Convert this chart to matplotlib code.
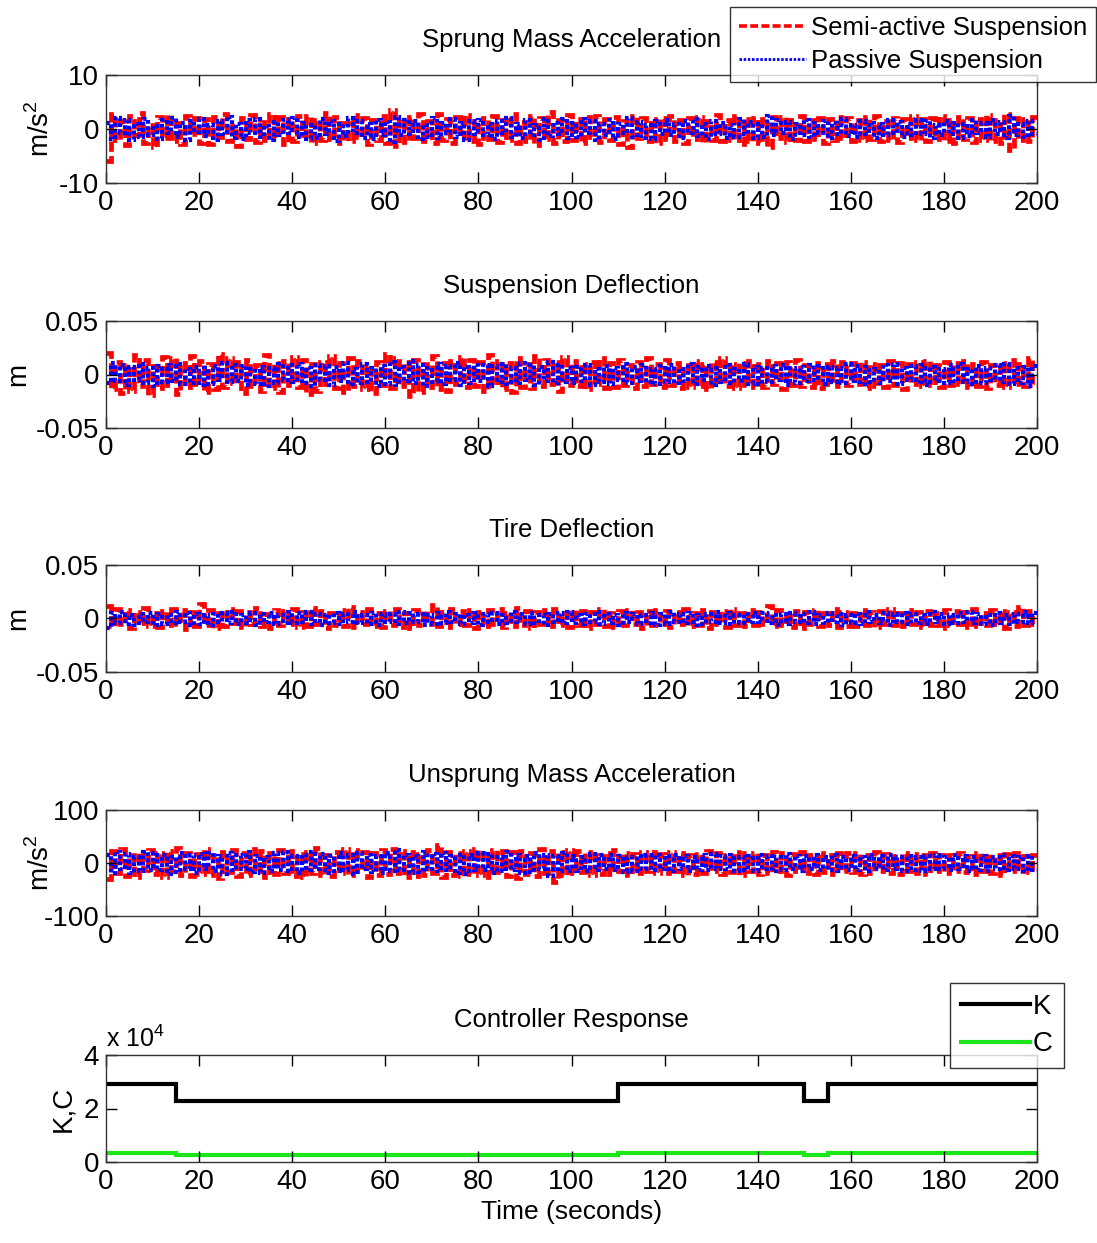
import numpy as np
import matplotlib
matplotlib.use("Agg")
import matplotlib.pyplot as plt
from matplotlib.ticker import FuncFormatter
from matplotlib.lines import Line2D

plt.rcParams['font.family'] = ['Liberation Sans', 'DejaVu Sans']
plt.rcParams['axes.unicode_minus'] = False
plt.rcParams['mathtext.fontset'] = 'custom'
plt.rcParams['mathtext.rm'] = 'Liberation Sans'

# ---------------- data (one value per second, 0..200 s) ----------------
sprung_semi = [
    -6.0, 2.8, -2.1, 1.5, -2.9, 2.4, -1.2, 2.9, -2.6, 0.8, -3.4, 2.2, -1.7, 2.6, -2.3, 1.1, -2.8, 2.5, -0.9, 2.0,
    -2.5, 1.8, -2.7, 2.3, -1.4, 2.7, -2.2, 0.6, -3.1, 2.1, -1.9, 2.6, -2.4, 1.3, -2.0, 2.8, -1.6, 2.2, -2.7, 1.9,
    -2.3, 2.5, -1.1, 2.4, -2.6, 1.7, -2.1, 2.9, -1.8, 2.3, -2.5, 1.2, -2.2, 2.6, -1.5, 2.1, -2.8, 1.6, -2.0, 2.4,
    -2.6, 3.6, -3.2, 1.9, -2.4, 2.2, -1.7, 2.7, -2.3, 1.4, -2.6, 2.8, -2.0, 1.8, -2.5, 2.3, -1.6, 2.6, -2.2, 1.5,
    -2.7, 2.1, -1.9, 2.5, -2.4, 1.6, -2.1, 2.8, -2.6, 1.3, -2.3, 2.4, -3.0, 2.0, -1.8, 3.1, -2.5, 1.7, -2.2, 2.6,
    -2.0, 1.9, -2.6, 2.3, -1.5, 2.5, -2.4, 1.8, -2.1, 2.2, -2.8, 1.4, -3.3, 2.4, -1.7, 2.1, -2.3, 1.9, -2.5, 2.0,
    -1.9, 2.4, -2.2, 1.6, -2.6, 2.1, -1.8, 2.3, -2.4, 1.5, -2.0, 2.6, -2.3, 1.7, -2.1, 2.4, -2.7, 1.8, -2.2, 2.0,
    -2.5, 1.9, -3.4, 2.3, -1.6, 2.2, -2.4, 1.7, -2.0, 2.5, -2.2, 1.6, -1.9, 2.1, -2.5, 1.8, -2.1, 2.3, -1.7, 2.0,
    -2.3, 1.7, -2.0, 2.2, -1.8, 2.4, -2.2, 1.5, -2.0, 2.1, -2.4, 1.9, -1.7, 2.5, -2.1, 1.8, -2.3, 2.0, -1.9, 2.4,
    -2.2, 1.6, -2.5, 2.3, -1.8, 2.1, -2.4, 1.9, -2.0, 2.6, -2.2, 1.7, -2.5, 2.8, -3.8, 2.0, -2.1, 1.8, -2.3, 2.2,
]
sprung_passive = [
    1.2, -1.8, 2.0, -0.7, 1.6, -2.1, 0.9, -1.5, 1.9, -1.2, 0.5, -1.9, 1.7, -0.8, 2.1, -1.4, 1.1, -2.0, 1.5, -0.6,
    1.8, -1.3, 0.8, -2.0, 1.4, -0.9, 2.2, -1.6, 1.0, -1.8, 1.6, -0.7, 1.9, -1.5, 0.6, -2.1, 1.3, -1.1, 1.7, -0.8,
    2.0, -1.4, 1.1, -1.9, 0.7, -1.6, 1.8, -1.0, 1.5, -2.2, 0.9, -1.3, 2.1, -0.8, 1.4, -1.7, 1.0, -1.9, 1.6, -1.2,
    1.3, -2.4, 2.3, -1.1, 1.7, -0.9, 1.5, -1.8, 0.8, -1.4, 2.0, -1.6, 1.2, -0.7, 1.9, -1.5, 1.1, -2.0, 1.4, -1.0,
    1.7, -1.2, 0.9, -1.9, 1.5, -0.8, 2.1, -1.4, 1.0, -1.7, 1.6, -1.1, 0.7, -2.0, 1.8, -1.3, 1.2, -0.9, 1.9, -1.6,
    1.1, -1.5, 1.8, -0.7, 1.4, -2.1, 0.9, -1.2, 1.6, -1.8, 1.0, -0.8, 2.0, -1.4, 1.3, -1.6, 0.8, -1.9, 1.5, -1.0,
    1.6, -1.1, 0.9, -1.7, 1.4, -0.8, 1.8, -1.3, 1.0, -1.9, 1.5, -0.9, 1.2, -1.6, 0.7, -1.4, 1.9, -1.0, 1.3, -1.7,
    1.0, -1.5, 2.4, -1.2, 1.6, -0.8, 1.3, -1.8, 0.9, -1.1, 1.7, -1.4, 1.1, -0.7, 1.5, -1.6, 1.2, -0.9, 1.8, -1.3,
    0.8, -1.4, 1.5, -1.0, 1.2, -1.7, 0.9, -1.2, 1.6, -0.8, 1.3, -1.5, 1.0, -1.1, 1.7, -0.9, 1.4, -1.6, 0.8, -1.2,
    1.5, -1.0, 1.2, -1.6, 0.9, -1.3, 1.7, -0.8, 1.1, -1.4, 1.6, -1.0, 1.3, -1.7, 2.4, -1.1, 1.0, -1.5, 1.4, -0.9,
]
susp_semi_mm = [
    20, -14, 12, -17, 9, -15, 18, -11, 14, -19, 8, -13, 16, -10, 15, -18, 11, -12, 17, -9,
    13, -16, 10, -14, 19, -12, 15, -8, 12, -17, 14, -11, 9, -15, 18, -13, 11, -16, 13, -10,
    16, -12, 14, -18, 10, -15, 12, -9, 17, -13, 11, -16, 15, -11, 13, -14, 9, -17, 12, -10,
    19, -13, 15, -11, 12, -20, 14, -16, 10, -12, 17, -14, 11, -15, 13, -9, 16, -12, 14, -11,
    12, -15, 18, -10, 13, -14, 11, -16, 15, -12, 10, -13, 17, -11, 14, -9, 12, -15, 16, -10,
    13, -11, 10, -14, 12, -9, 15, -13, 11, -12, 14, -10, 9, -13, 12, -11, 15, -9, 10, -12,
    14, -10, 11, -13, 9, -12, 13, -11, 10, -14, 12, -9, 15, -11, 10, -13, 11, -10, 13, -12,
    10, -12, 13, -9, 11, -14, 12, -10, 14, -11, 9, -12, 11, -13, 10, -9, 13, -11, 12, -10,
    11, -9, 12, -13, 10, -11, 9, -12, 13, -10, 11, -14, 10, -9, 12, -11, 13, -10, 9, -12,
    12, -10, 11, -9, 13, -12, 10, -11, 12, -13, 9, -10, 11, -12, 14, -9, 10, -11, 15, -10,
]
susp_passive_mm = [
    -8, 11, -6, 9, -10, 7, -5, 10, -8, 6, -11, 8, -7, 9, -6, 10, -9, 5, -8, 7,
    -10, 6, -9, 8, -5, 11, -7, 9, -6, 8, -10, 5, -9, 7, -11, 6, -8, 10, -5, 9,
    -7, 10, -8, 6, -11, 9, -5, 8, -10, 7, -6, 11, -9, 5, -8, 10, -7, 6, -11, 8,
    -9, 12, -10, 7, -6, 13, -8, 9, -11, 6, -7, 10, -9, 8, -5, 11, -10, 7, -8, 9,
    -6, 9, -11, 8, -7, 10, -9, 6, -8, 11, -5, 9, -10, 7, -6, 12, -8, 9, -7, 6,
    -8, 7, -6, 9, -10, 5, -7, 8, -9, 6, -5, 10, -8, 7, -6, 9, -7, 5, -9, 8,
    -7, 9, -8, 5, -6, 10, -9, 7, -5, 8, -10, 6, -7, 9, -8, 5, -6, 10, -9, 7,
    -9, 6, -7, 8, -5, 9, -10, 6, -8, 7, -6, 9, -5, 8, -9, 7, -7, 6, -8, 10,
    -6, 8, -9, 7, -7, 5, -8, 9, -6, 10, -9, 6, -5, 8, -7, 9, -10, 7, -6, 5,
    -8, 9, -6, 10, -7, 5, -9, 8, -8, 6, -5, 9, -7, 10, -9, 6, -8, 7, -11, 8,
]
tire_semi_mm = [
    12, -7, 9, -5, 8, -9, 6, -4, 10, -7, 5, -8, 7, -6, 9, -5, 8, -10, 6, -7,
    14, -6, 8, -9, 5, -7, 9, -4, 7, -8, 6, -5, 10, -7, 4, -9, 8, -6, 7, -5,
    9, -8, 6, -7, 10, -5, 7, -9, 5, -6, 8, -7, 11, -8, 6, -5, 9, -7, 5, -8,
    7, -6, 9, -8, 5, -9, 8, -6, 7, -5, 13, -7, 6, -8, 9, -5, 7, -6, 8, -9,
    6, -7, 8, -5, 9, -8, 5, -7, 10, -6, 7, -9, 6, -5, 8, -7, 9, -6, 5, -8,
    8, -6, 7, -9, 6, -5, 9, -7, 5, -8, 7, -6, 8, -5, 6, -9, 7, -6, 8, -5,
    7, -8, 6, -5, 9, -7, 5, -6, 8, -9, 6, -5, 7, -8, 9, -6, 5, -7, 8, -6,
    6, -5, 12, -7, 8, -6, 5, -8, 7, -9, 6, -5, 8, -7, 5, -6, 9, -8, 6, -7,
    5, -7, 8, -6, 6, -8, 7, -5, 9, -6, 5, -7, 8, -5, 6, -8, 7, -6, 5, -9,
    8, -6, 7, -5, 6, -8, 9, -7, 5, -6, 8, -5, 7, -9, 6, -7, 11, -6, 7, -5,
]
tire_passive_mm = [
    -9, 5, -4, 6, -5, 3, -6, 4, -3, 5, -6, 4, -5, 3, -4, 6, -3, 5, -6, 4,
    -5, 3, -6, 4, -3, 5, -4, 6, -5, 3, -4, 5, -6, 4, -3, 5, -5, 3, -4, 6,
    -4, 5, -3, 6, -5, 4, -6, 3, -4, 5, -5, 4, -3, 6, -4, 3, -5, 5, -6, 4,
    -3, 4, -5, 6, -4, 5, -3, 4, -6, 3, -5, 5, -4, 6, -3, 4, -5, 3, -4, 5,
    -6, 4, -3, 5, -5, 3, -4, 6, -3, 4, -5, 5, -4, 3, -6, 4, -3, 5, -4, 6,
    -4, 3, -5, 4, -3, 6, -5, 4, -4, 3, -6, 5, -3, 4, -5, 3, -4, 5, -6, 4,
    -5, 6, -3, 4, -4, 5, -6, 3, -5, 4, -3, 6, -4, 5, -5, 3, -4, 4, -3, 5,
    -3, 5, -4, 3, -6, 4, -5, 5, -3, 4, -4, 6, -5, 3, -4, 5, -3, 4, -6, 3,
    -4, 4, -5, 6, -3, 3, -4, 5, -6, 4, -3, 5, -5, 4, -4, 3, -5, 6, -3, 4,
    -5, 3, -4, 5, -3, 6, -4, 4, -5, 3, -6, 5, -4, 3, -5, 4, -3, 6, -4, 5,
]
unsprung_semi = [
    -30, 22, -18, 26, -24, 15, -27, 20, -14, 25, -21, 18, -26, 23, -16, 28, -22, 19, -25, 17,
    -20, 27, -23, 16, -28, 21, -17, 24, -25, 19, -22, 26, -15, 23, -27, 18, -21, 25, -19, 22,
    -24, 17, -26, 21, -19, 28, -23, 16, -25, 20, -18, 27, -22, 24, -16, 21, -26, 19, -23, 25,
    -21, 26, -18, 23, -27, 20, -24, 17, -22, 25, -19, 34, -26, 21, -23, 18, -25, 22, -20, 27,
    -23, 19, -26, 24, -17, 22, -25, 20, -28, 23, -21, 18, -24, 26, -19, 22, -36, 20, -23, 25,
    -19, 22, -17, 20, -23, 16, -21, 18, -20, 24, -16, 19, -22, 17, -18, 21, -15, 20, -19, 17,
    -18, 21, -16, 19, -22, 15, -20, 17, -19, 22, -15, 18, -21, 16, -17, 20, -23, 18, -16, 19,
    -20, 16, -18, 21, -15, 19, -22, 17, -16, 20, -19, 15, -21, 18, -17, 16, -20, 19, -15, 18,
    -17, 19, -21, 15, -18, 20, -16, 17, -19, 14, -20, 18, -15, 17, -18, 16, -21, 19, -16, 15,
    -18, 16, -15, 19, -17, 14, -20, 18, -16, 17, -19, 15, -22, 17, -16, 18, -15, 14, -17, 16,
]
unsprung_passive = [
    15, -18, 20, -12, 17, -19, 11, -16, 21, -14, 18, -13, 16, -20, 12, -17, 19, -11, 15, -18,
    17, -12, 19, -16, 13, -20, 18, -14, 16, -11, 20, -17, 14, -19, 12, -15, 18, -13, 21, -16,
    13, -19, 16, -14, 20, -12, 17, -18, 14, -16, 19, -13, 15, -20, 18, -11, 16, -17, 13, -19,
    18, -15, 24, -13, 16, -19, 14, -17, 20, -12, 17, -15, 19, -14, 13, -18, 16, -20, 15, -13,
    19, -14, 17, -18, 12, -16, 20, -13, 15, -19, 14, -17, 18, -12, 16, -24, 13, -15, 19, -16,
    14, -16, 12, -15, 17, -13, 15, -11, 16, -14, 13, -17, 12, -15, 14, -12, 16, -13, 15, -11,
    13, -15, 16, -12, 14, -16, 11, -14, 15, -13, 17, -12, 14, -11, 16, -15, 12, -14, 13, -16,
    15, -12, 14, -16, 12, -13, 17, -11, 13, -15, 14, -12, 16, -14, 11, -13, 15, -16, 12, -14,
    14, -13, 12, -15, 16, -11, 13, -14, 15, -12, 11, -16, 14, -13, 12, -15, 13, -11, 16, -12,
    12, -14, 15, -11, 13, -16, 12, -13, 14, -15, 11, -12, 16, -13, 14, -11, 12, -15, 13, -14,
]

# controller response: piecewise-constant segments
ctrl_edges = [0, 15, 110, 150, 155, 200]
K_values = [2.92e4, 2.28e4, 2.92e4, 2.28e4, 2.92e4]
C_values = [3200, 2700, 3200, 2700, 3200]

x_ticks = [0, 20, 40, 60, 80, 100, 120, 140, 160, 180, 200]
titles = ["Sprung Mass Acceleration", "Suspension Deflection", "Tire Deflection",
          "Unsprung Mass Acceleration", "Controller Response"]
ylabels = ["m/s$^2$", "m", "m", "m/s$^2$", "K,C"]
ylims = [(-10, 10), (-0.05, 0.05), (-0.05, 0.05), (-100, 100), (0, 40000)]
yticks = [[-10, 0, 10], [-0.05, 0, 0.05], [-0.05, 0, 0.05], [-100, 0, 100], [0, 20000, 40000]]

# ---------------- figure ----------------
W, H = 1097, 1243
fig = plt.figure(figsize=(W / 100, H / 100), dpi=100)

left_px, right_px = 106, 1037
panel_px = [(75, 183), (321, 428), (565, 672), (810, 916), (1055, 1162)]
ylabel_right_px = [55, 31, 31, 55, 76]
axes = []
for top, bot in panel_px:
    ax = fig.add_axes([left_px / W, 1 - bot / H, (right_px - left_px) / W, (bot - top) / H])
    axes.append(ax)

TICK_FS = 20
TITLE_FS = 18.5
red = (1, 0, 0)
blue = (0, 0, 1)
green = (0.1, 0.9, 0.1)
RED_LS = (0, (2.2, 0.9))
BLUE_LS = (0, (0.9, 0.6))

edges = np.arange(0, 201)
pairs = [
    (sprung_semi, sprung_passive, 1.0),
    (susp_semi_mm, susp_passive_mm, 1e-3),
    (tire_semi_mm, tire_passive_mm, 1e-3),
    (unsprung_semi, unsprung_passive, 1.0),
]
for ax, (semi, passive, scale) in zip(axes[:4], pairs):
    ax.stairs(np.array(semi) * scale, edges, baseline=None, color=red,
              linestyle=RED_LS, linewidth=3.4)
    ax.stairs(np.array(passive) * scale, edges, baseline=None, color=blue,
              linestyle=BLUE_LS, linewidth=3.0)

ax5 = axes[4]
ax5.stairs(K_values, ctrl_edges, baseline=None, color='black', linewidth=3.0)
ax5.stairs(C_values, ctrl_edges, baseline=None, color=green, linewidth=3.0)
ax5.yaxis.set_major_formatter(FuncFormatter(lambda v, p: f"{v / 1e4:g}"))
ax5.text(0.0, 1.03, "x 10$^4$", transform=ax5.transAxes, fontsize=18, ha='left', va='bottom')

for i, ax in enumerate(axes):
    ax.set_xlim(0, 200)
    ax.set_ylim(*ylims[i])
    ax.set_xticks(x_ticks)
    ax.set_yticks(yticks[i])
    if i in (1, 2):
        ax.set_yticklabels(["-0.05", "0", "0.05"])
    ax.tick_params(direction='in', length=8, width=1, top=True, right=True,
                   labelsize=TICK_FS, pad=5)
    ax.set_title(titles[i], fontsize=TITLE_FS, pad=20)
    ax.set_ylabel(ylabels[i], fontsize=20)
    ax.yaxis.set_label_coords((ylabel_right_px[i] - left_px) / (right_px - left_px), 0.5)
    for s in ax.spines.values():
        s.set_linewidth(1.0)
        s.set_color('#333333')

ax5.set_xlabel("Time (seconds)", fontsize=19, labelpad=4)

# legends
h1 = [Line2D([], [], color=red, linestyle=RED_LS, linewidth=2.6),
      Line2D([], [], color=blue, linestyle=BLUE_LS, linewidth=2.0)]
fig.legend(h1, ["Semi-active Suspension", "Passive Suspension"],
           loc='upper right', bbox_to_anchor=(1096 / W, 1 - 7 / H),
           fontsize=18.5, frameon=True, fancybox=False, edgecolor='black',
           handlelength=2.6, handletextpad=0.2, borderpad=0.35, labelspacing=0.35,
           borderaxespad=0)
h2 = [Line2D([], [], color='black', linewidth=3.0),
      Line2D([], [], color=green, linewidth=3.0)]
fig.legend(h2, ["K", "C"], loc='upper right', bbox_to_anchor=(1064 / W, 1 - 983 / H),
           fontsize=20, frameon=True, fancybox=False, edgecolor='black',
           handlelength=2.5, handletextpad=0.1, borderpad=0.4, labelspacing=0.4,
           borderaxespad=0)
for leg in fig.legends:
    leg.get_frame().set_linewidth(1.0)

fig.savefig("out.png", dpi=100)
